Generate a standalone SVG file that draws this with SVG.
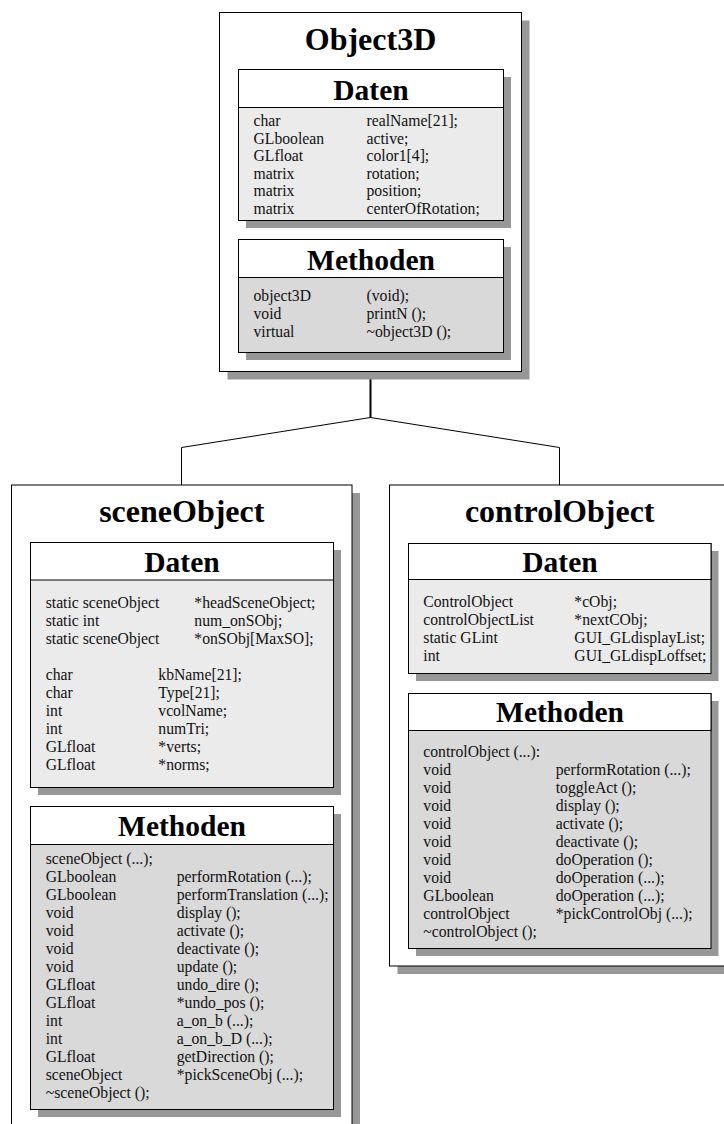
<svg xmlns="http://www.w3.org/2000/svg" width="724" height="1124" viewBox="0 0 724 1124">
  <style>
    .shadow { fill: #979797; }
    .frame { fill: #ffffff; stroke: #000000; stroke-width: 1; }
    .head { fill: #ffffff; stroke: #000000; stroke-width: 1; }
    .data { fill: #ebebeb; stroke: #000000; stroke-width: 1; }
    .meth { fill: #d9d9d9; stroke: #000000; stroke-width: 1; }
    .title { font-family: "Liberation Serif", "Times New Roman", serif; font-weight: bold; font-size: 32px; text-anchor: middle; fill: #000; }
    .sect { font-family: "Liberation Serif", "Times New Roman", serif; font-weight: bold; font-size: 29.5px; text-anchor: middle; fill: #000; }
    .row { font-family: "Liberation Serif", "Times New Roman", serif; font-size: 15.7px; fill: #111; }
    .link { fill: none; stroke: #000000; stroke-width: 1; }
  </style>

  <!-- inheritance connectors -->
  <g id="connectors">
    <line class="link" x1="370.5" y1="372" x2="370.5" y2="417.5" style="stroke-width:2"/>
    <polyline class="link" points="181.5,485 181.5,447.5 370.5,417.5 559.5,447.5 559.5,485"/>
  </g>

  <!-- base class -->
  <g id="object3d">
    <rect class="shadow" x="227.5" y="20.5" width="302" height="359"/>
    <rect class="frame" x="219.5" y="12.5" width="302" height="359"/>
    <text class="title" x="370.5" y="49.5">Object3D</text>

    <g id="object3d-daten">
      <rect class="shadow" x="246" y="77" width="265" height="151"/>
      <rect class="data" x="238.5" y="69.5" width="265" height="151"/>
      <rect class="head" x="238.5" y="69.5" width="265" height="38"/>
      <text class="sect" x="371" y="99.5">Daten</text>
      <text class="row" x="253.5" y="126">char</text><text class="row" x="366.5" y="126">realName[21];</text>
      <text class="row" x="253.5" y="143.5">GLboolean</text><text class="row" x="366.5" y="143.5">active;</text>
      <text class="row" x="253.5" y="161">GLfloat</text><text class="row" x="366.5" y="161">color1[4];</text>
      <text class="row" x="253.5" y="178.5">matrix</text><text class="row" x="366.5" y="178.5">rotation;</text>
      <text class="row" x="253.5" y="196">matrix</text><text class="row" x="366.5" y="196">position;</text>
      <text class="row" x="253.5" y="213.5">matrix</text><text class="row" x="366.5" y="213.5">centerOfRotation;</text>
    </g>

    <g id="object3d-methoden">
      <rect class="shadow" x="246" y="247" width="265" height="113"/>
      <rect class="meth" x="238.5" y="239.5" width="265" height="113"/>
      <rect class="head" x="238.5" y="239.5" width="265" height="38"/>
      <text class="sect" x="371" y="270">Methoden</text>
      <text class="row" x="253.5" y="301">object3D</text><text class="row" x="366.5" y="301">(void);</text>
      <text class="row" x="253.5" y="319">void</text><text class="row" x="366.5" y="319">printN ();</text>
      <text class="row" x="253.5" y="337">virtual</text><text class="row" x="366.5" y="337">~object3D ();</text>
    </g>
  </g>

  <!-- derived class: scene objects -->
  <g id="sceneObject">
    <rect class="shadow" x="19.5" y="493" width="340.5" height="700"/>
    <rect class="frame" x="11.5" y="485" width="340.5" height="700"/>
    <text class="title" x="181.8" y="522">sceneObject</text>

    <g id="sceneObject-daten">
      <rect class="shadow" x="38" y="550" width="303" height="245"/>
      <rect class="data" x="30.5" y="542.5" width="303" height="245"/>
      <rect class="head" x="30.5" y="542.5" width="303" height="37.5"/>
      <text class="sect" x="182" y="572">Daten</text>
      <text class="row" x="45.7" y="608">static sceneObject</text><text class="row" x="194.3" y="608">*headSceneObject;</text>
      <text class="row" x="45.7" y="626">static int</text><text class="row" x="194.3" y="626">num_onSObj;</text>
      <text class="row" x="45.7" y="644">static sceneObject</text><text class="row" x="194.3" y="644">*onSObj[MaxSO];</text>
      <text class="row" x="45.7" y="680">char</text><text class="row" x="158.3" y="680">kbName[21];</text>
      <text class="row" x="45.7" y="698">char</text><text class="row" x="158.3" y="698">Type[21];</text>
      <text class="row" x="45.7" y="716">int</text><text class="row" x="158.3" y="716">vcolName;</text>
      <text class="row" x="45.7" y="734">int</text><text class="row" x="158.3" y="734">numTri;</text>
      <text class="row" x="45.7" y="752">GLfloat</text><text class="row" x="158.3" y="752">*verts;</text>
      <text class="row" x="45.7" y="770">GLfloat</text><text class="row" x="158.3" y="770">*norms;</text>
    </g>

    <g id="sceneObject-methoden">
      <rect class="shadow" x="38" y="814" width="303" height="303"/>
      <rect class="meth" x="30.5" y="806.5" width="303" height="303"/>
      <rect class="head" x="30.5" y="806.5" width="303" height="38"/>
      <text class="sect" x="182" y="836">Methoden</text>
      <text class="row" x="45.7" y="864">sceneObject (...);</text>
      <text class="row" x="45.7" y="882">GLboolean</text><text class="row" x="176.7" y="882">performRotation (...);</text>
      <text class="row" x="45.7" y="900">GLboolean</text><text class="row" x="176.7" y="900">performTranslation (...);</text>
      <text class="row" x="45.7" y="918">void</text><text class="row" x="176.7" y="918">display ();</text>
      <text class="row" x="45.7" y="936">void</text><text class="row" x="176.7" y="936">activate ();</text>
      <text class="row" x="45.7" y="954">void</text><text class="row" x="176.7" y="954">deactivate ();</text>
      <text class="row" x="45.7" y="972">void</text><text class="row" x="176.7" y="972">update ();</text>
      <text class="row" x="45.7" y="990">GLfloat</text><text class="row" x="176.7" y="990">undo_dire ();</text>
      <text class="row" x="45.7" y="1008">GLfloat</text><text class="row" x="176.7" y="1008">*undo_pos ();</text>
      <text class="row" x="45.7" y="1026">int</text><text class="row" x="176.7" y="1026">a_on_b (...);</text>
      <text class="row" x="45.7" y="1044">int</text><text class="row" x="176.7" y="1044">a_on_b_D (...);</text>
      <text class="row" x="45.7" y="1062">GLfloat</text><text class="row" x="176.7" y="1062">getDirection ();</text>
      <text class="row" x="45.7" y="1080">sceneObject</text><text class="row" x="176.7" y="1080">*pickSceneObj (...);</text>
      <text class="row" x="45.7" y="1098">~sceneObject ();</text>
    </g>
  </g>

  <!-- derived class: control objects -->
  <g id="controlObject">
    <rect class="shadow" x="397.5" y="493" width="341" height="481"/>
    <rect class="frame" x="389.5" y="485" width="341" height="481"/>
    <text class="title" x="559.7" y="521.5">controlObject</text>

    <g id="controlObject-daten">
      <rect class="shadow" x="416" y="551" width="302.5" height="130"/>
      <rect class="data" x="408.5" y="543.5" width="302.5" height="130"/>
      <rect class="head" x="408.5" y="543.5" width="302.5" height="36"/>
      <text class="sect" x="560" y="571.7">Daten</text>
      <text class="row" x="423.3" y="607">ControlObject</text><text class="row" x="574.3" y="607">*cObj;</text>
      <text class="row" x="423.3" y="625">controlObjectList</text><text class="row" x="574.3" y="625">*nextCObj;</text>
      <text class="row" x="423.3" y="643">static GLint</text><text class="row" x="574.3" y="643">GUI_GLdisplayList;</text>
      <text class="row" x="423.3" y="661">int</text><text class="row" x="574.3" y="661">GUI_GLdispLoffset;</text>
    </g>

    <g id="controlObject-methoden">
      <rect class="shadow" x="416" y="701" width="302.5" height="255"/>
      <rect class="meth" x="408.5" y="693.5" width="302.5" height="255"/>
      <rect class="head" x="408.5" y="693.5" width="302.5" height="37"/>
      <text class="sect" x="560" y="722">Methoden</text>
      <text class="row" x="423.3" y="757">controlObject (...):</text>
      <text class="row" x="423.3" y="775">void</text><text class="row" x="555.7" y="775">performRotation (...);</text>
      <text class="row" x="423.3" y="793">void</text><text class="row" x="555.7" y="793">toggleAct ();</text>
      <text class="row" x="423.3" y="811">void</text><text class="row" x="555.7" y="811">display ();</text>
      <text class="row" x="423.3" y="829">void</text><text class="row" x="555.7" y="829">activate ();</text>
      <text class="row" x="423.3" y="847">void</text><text class="row" x="555.7" y="847">deactivate ();</text>
      <text class="row" x="423.3" y="865">void</text><text class="row" x="555.7" y="865">doOperation ();</text>
      <text class="row" x="423.3" y="883">void</text><text class="row" x="555.7" y="883">doOperation (...);</text>
      <text class="row" x="423.3" y="901">GLboolean</text><text class="row" x="555.7" y="901">doOperation (...);</text>
      <text class="row" x="423.3" y="919">controlObject</text><text class="row" x="555.7" y="919">*pickControlObj (...);</text>
      <text class="row" x="423.3" y="937">~controlObject ();</text>
    </g>
  </g>
</svg>
